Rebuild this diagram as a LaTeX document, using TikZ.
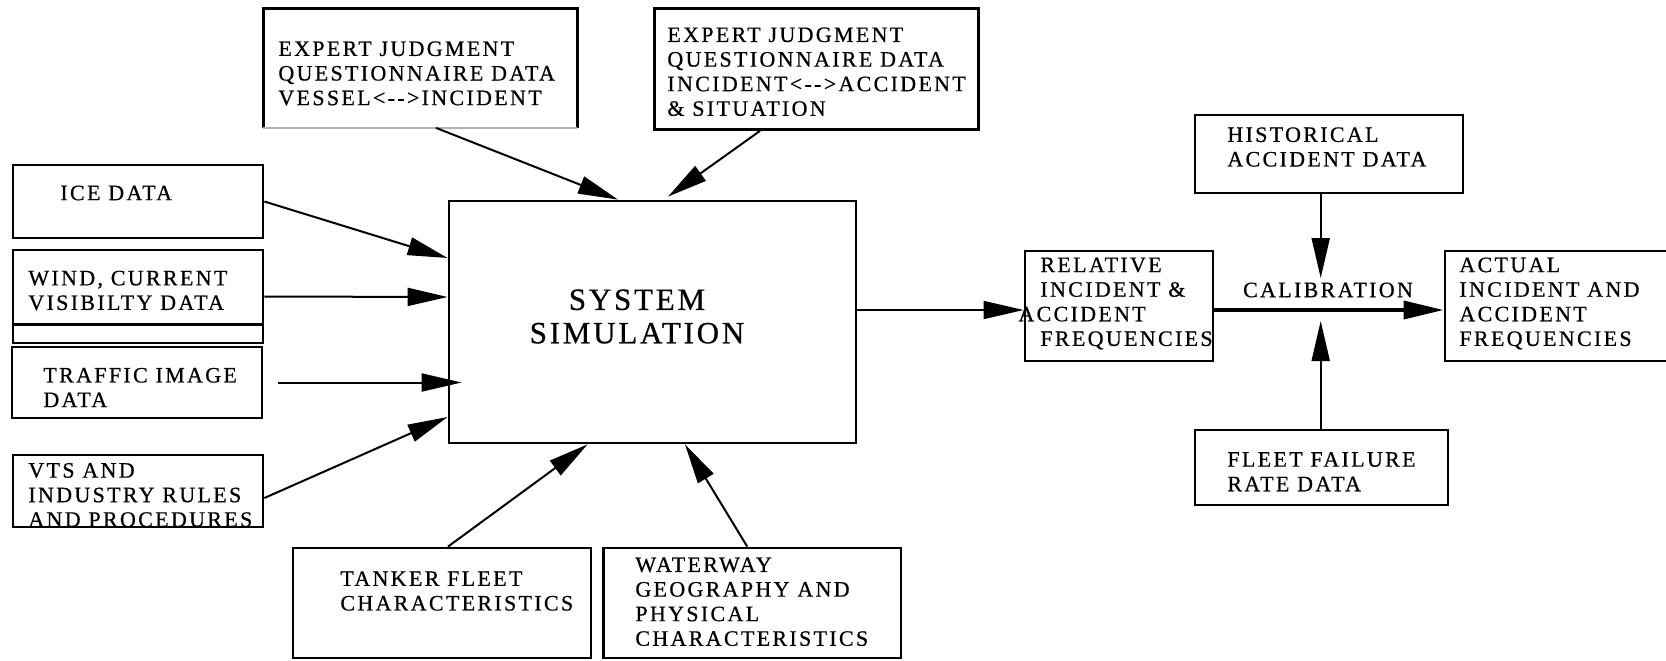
\documentclass[tikz,border=0pt]{standalone}
\usepackage{fontspec}
\newfontfamily\lbl[LetterSpace=10.5,FakeBold=0.6]{Liberation Serif}
\newfontfamily\biglbl[LetterSpace=9,FakeBold=0.6]{Liberation Serif}
\usetikzlibrary{arrows.meta,calc}
\begin{document}
\begin{tikzpicture}[x=0.5pt,y=-0.5pt,
  box/.style={draw, line width=1.4pt, inner sep=0pt},
  txt/.style={inner sep=0pt, align=left, anchor=west, font=\lbl\fontsize{11}{12.3}\selectfont},
  conn/.style={line width=1pt, -{Triangle[length=20pt,width=9pt]}},
  thinconn/.style={line width=0.8pt, -{Triangle[length=20pt,width=9pt]}},
  thickconn/.style={line width=1.8pt, -{Triangle[length=20pt,width=9pt]}},
]
\useasboundingbox (0,0) rectangle (1666,660);

% boxes
\node[inner sep=0pt, minimum width=156.75pt, minimum height=59.5pt] (ej1) at (420.25,68) {};
\draw[line width=1.4pt] (ej1.south west) -- (ej1.north west) -- (ej1.north east) -- (ej1.south east);
\draw[line width=0.6pt, gray!60] (ej1.south west) -- (ej1.south east);
\node[box, minimum width=162pt, minimum height=60.5pt] (ej2) at (816.5,69) {};
\node[box, minimum width=203.5pt, minimum height=121pt] (sim) at (652.5,322) {};
\node[box, minimum width=125pt, minimum height=36.5pt] (ice) at (138,201.5) {};
\node[box, minimum width=125pt, minimum height=46.5pt] (wind) at (138,296.5) {};
\draw[line width=1.4pt] ($(wind.south west)+(0,-20)$) -- ($(wind.south east)+(0,-20)$);
\node[box, minimum width=125pt, minimum height=35.5pt] (traffic) at (137,382.5) {};
\node[box, minimum width=125pt, minimum height=36pt] (vts) at (138,491) {};
\node[box, minimum width=149pt, minimum height=55pt] (tanker) at (442,603) {};
\node[box, minimum width=148.75pt, minimum height=55pt] (water) at (752.25,603) {};
\node[box, minimum width=94pt, minimum height=55pt] (rel) at (1119,306) {};
\node[box, minimum width=117.5pt, minimum height=55pt] (act) at (1562.5,306) {};
\node[box, minimum width=134pt, minimum height=39pt] (hist) at (1329,154) {};
\node[box, minimum width=126.5pt, minimum height=37.5pt] (fleet) at (1321.5,467.5) {};

% texts
\node[txt] (tej1) at (278,73.4) {EXPERT JUDGMENT\\QUESTIONNAIRE DATA\\VESSEL<-{}->INCIDENT};
\node[txt] (tej2) at (667,71.7) {EXPERT JUDGMENT\\QUESTIONNAIRE DATA\\INCIDENT<-{}->ACCIDENT\\\& SITUATION};
\node[txt] (tice) at (60,193) {ICE DATA};
\node[txt] (twind) at (28,290.5) {WIND, CURRENT\\VISIBILTY DATA};
\node[txt] (ttraffic) at (43,387.5) {TRAFFIC IMAGE\\DATA};
\node[txt] (tvts) at (28,495) {VTS AND\\INDUSTRY RULES\\AND PROCEDURES};
\node[inner sep=0pt, align=center, font=\biglbl\fontsize{15.5}{16.7}\selectfont] (tsim) at (637,316.5) {SYSTEM\\SIMULATION};
\node[txt] (ttanker) at (340,591) {TANKER FLEET\\CHARACTERISTICS};
\node[txt] (twater) at (635,601.7) {WATERWAY\\GEOGRAPHY AND\\PHYSICAL\\CHARACTERISTICS};
\node[txt] (trel) at (1040,303.5) {RELATIVE\\INCIDENT \&\\\hspace*{-11pt}ACCIDENT\\FREQUENCIES};
\node[txt] (tact) at (1459,303.5) {ACTUAL\\INCIDENT AND\\ACCIDENT\\FREQUENCIES};
\node[txt] (thist) at (1227,147) {HISTORICAL\\ACCIDENT DATA};
\node[txt] (tfleet) at (1227,471.7) {FLEET FAILURE\\RATE DATA};
\node[inner sep=0pt, font=\lbl\fontsize{11}{12.3}\selectfont] (tcal) at (1328,290) {CALIBRATION};

% connectors
\draw[conn] ([xshift=7.9pt]ej1.south) -- ([xshift=-17.25pt]sim.north);
\draw[conn] ([xshift=-28.25pt]ej2.south) -- ([xshift=7.75pt,yshift=1.5pt]sim.north);
\draw[conn] (ice.east) -- ([yshift=32pt]sim.west);
\draw[conn] (wind.east) -- ([yshift=12.5pt]sim.west);
\draw[conn] ([xshift=7.5pt]traffic.east) -- ([xshift=7pt]sim.west |- traffic.east);
\draw[conn] ([yshift=-3.5pt]vts.east) -- ([yshift=-47.5pt]sim.west);
\draw[conn] ([xshift=3pt]tanker.north) -- ([xshift=-32.5pt]sim.south);
\draw[conn] ([xshift=-2.5pt]water.north) -- ([xshift=16.25pt]sim.south);
\draw[thinconn] ([yshift=6pt]sim.east) -- ([yshift=6pt]sim.east -| rel.west);
\coordinate (cal) at (1320.7,310);
\draw[thickconn] (rel.east |- cal) -- (act.west |- cal);
\draw[conn] (hist.south -| cal) -- ([yshift=16pt]cal);
\draw[conn] (fleet.north -| cal) -- ([yshift=-5.5pt]cal);
\end{tikzpicture}
\end{document}
